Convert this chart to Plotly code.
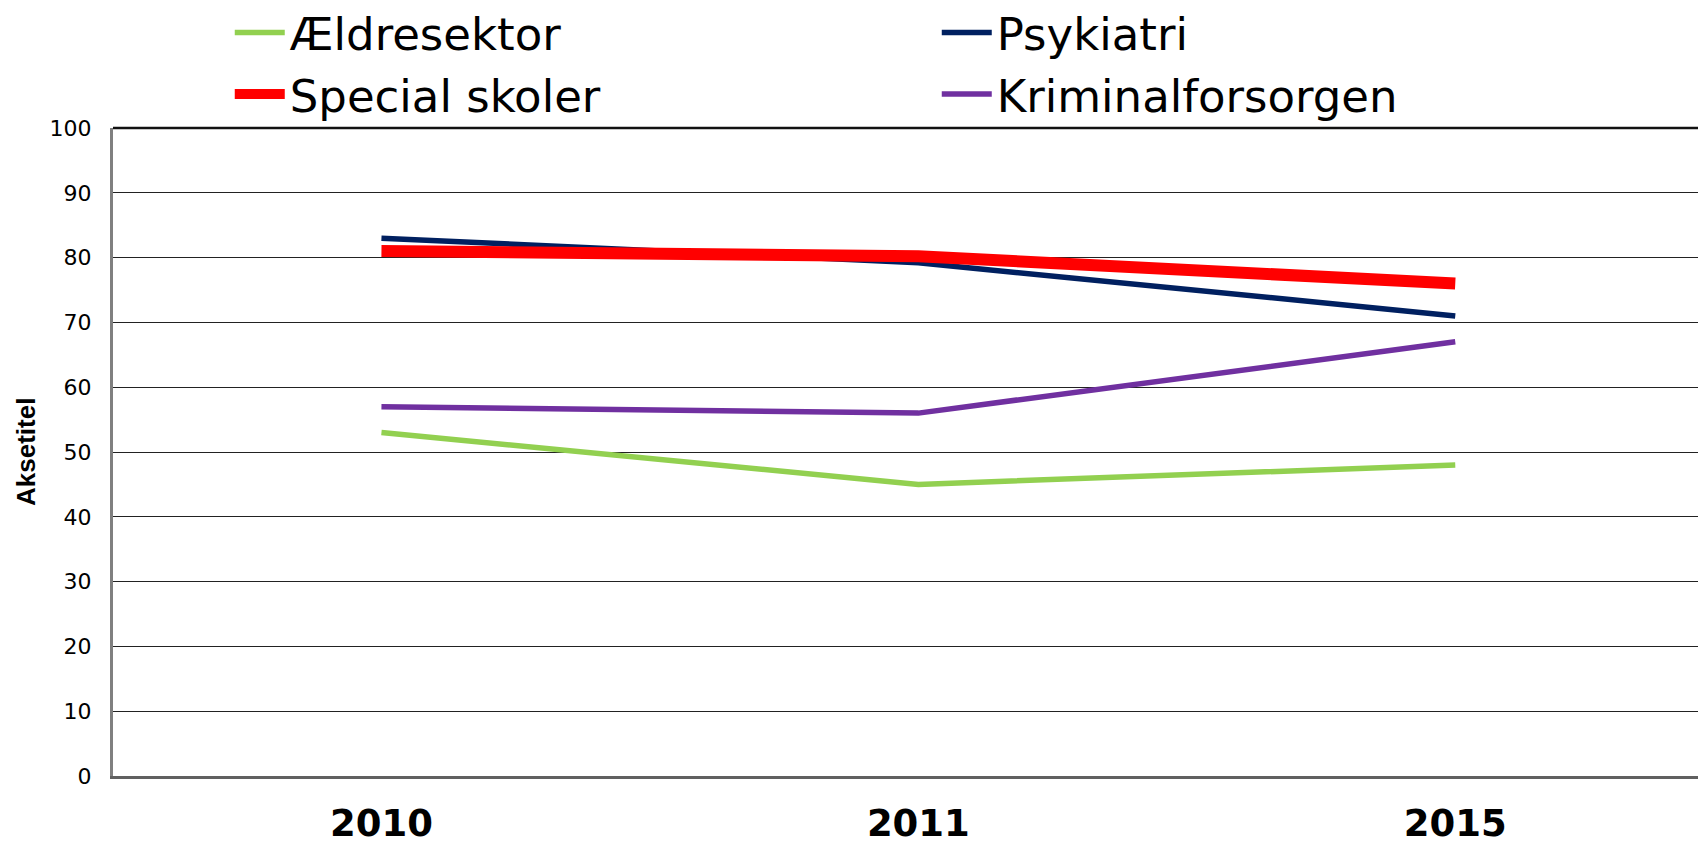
import plotly.graph_objects as go

years = ["2010", "2011", "2015"]
series_names = ["Ældresektor", "Psykiatri", "Special skoler", "Kriminalforsorgen"]
aeldresektor = [53, 45, 48]
psykiatri = [83, 79.2, 71]
special_skoler = [81, 80.2, 76]
kriminalforsorgen = [57, 56, 67]
y_ticks = list(range(0, 101, 10))
y_title = "Aksetitel"

colors = ["#92D050", "#002060", "#FF0000", "#7030A0"]
widths = [5.5, 5.5, 12, 5.5]
values = [aeldresektor, psykiatri, special_skoler, kriminalforsorgen]

fig = go.Figure()
for name, vals, c, w in zip(series_names, values, colors, widths):
    fig.add_trace(go.Scatter(
        x=years, y=vals, name=name, mode="lines",
        line=dict(color=c, width=w),
    ))

fig.update_layout(
    width=1698, height=838,
    margin=dict(l=105, r=0, t=120, b=70, autoexpand=False),
    paper_bgcolor="white", plot_bgcolor="white",
    font=dict(family="DejaVu Sans", color="black"),
    showlegend=True,
    legend=dict(
        orientation="h",
        xref="container", yref="paper",
        x=0.1306, y=1.2025, xanchor="left", yanchor="top",
        font=dict(family="DejaVu Sans", size=45, color="black"),
        entrywidth=642, entrywidthmode="pixels",
        itemwidth=50,
        bgcolor="rgba(0,0,0,0)",
        traceorder="normal",
    ),
    xaxis=dict(
        type="category",
        range=[-0.5, 2.467],
        automargin=False,
        showgrid=False,
        showline=True, linecolor="#606060", linewidth=3,
        ticks="",
        tickfont=dict(family="DejaVu Sans", size=37, color="black", weight="bold"),
        ticklabelstandoff=13,
        zeroline=False,
    ),
    yaxis=dict(
        range=[0, 100],
        automargin=False,
        tickvals=y_ticks,
        showgrid=True, gridcolor="#222222", gridwidth=1,
        showline=True, linecolor="#808080", linewidth=3,
        ticks="",
        tickfont=dict(family="DejaVu Sans", size=22, color="black"),
        ticklabelstandoff=14,
        zeroline=False,
    ),
    annotations=[dict(text="<b>" + y_title + "</b>", xref="paper", yref="paper",
                      x=-0.0546, y=0.5, xanchor="center", yanchor="middle",
                      textangle=-90, showarrow=False,
                      font=dict(family="Liberation Sans", size=26, color="black"))],
    shapes=[dict(type="line", xref="paper", yref="paper", x0=0, x1=1, y0=1, y1=1,
                 line=dict(color="#111111", width=2.5))],
)

fig.write_html("out.html")
